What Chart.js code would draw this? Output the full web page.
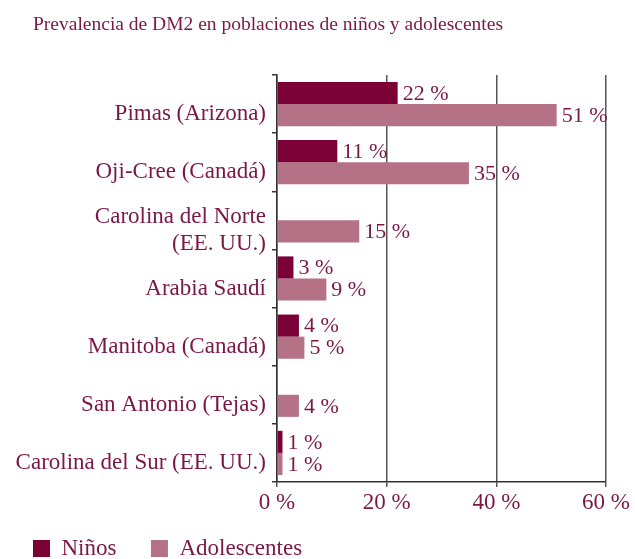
<!DOCTYPE html>
<html>
<head>
<meta charset="utf-8">
<script src="https://cdn.jsdelivr.net/npm/chart.js@4"></script>
<style>
  html, body { margin: 0; padding: 0; background: #fff; }
  #wrap { width: 635px; height: 559px; }
</style>
</head>
<body>
<div id="wrap"><canvas id="dm2Chart"></canvas></div>
<script>
const categories = [
    "Pimas (Arizona)",
    "Oji-Cree (Canadá)",
    ["Carolina del Norte", "(EE. UU.)"],
    "Arabia Saudí",
    "Manitoba (Canadá)",
    "San Antonio (Tejas)",
    "Carolina del Sur (EE. UU.)",
];
const ninos = [22, 11, null, 3, 4, null, 1];
const adolescentes = [51, 35, 15, 9, 5, 4, 1];
const xTicks = [0, 20, 40, 60];
const titleText = "Prevalencia de DM2 en poblaciones de niños y adolescentes";

const textColor = "#7b1746";
const serif = "'Liberation Serif', 'DejaVu Serif', serif";

// title at the top left and the "xx %" value next to every bar
const labelsPlugin = {
    id: "barLabels",
    afterDraw(chart) {
        const ctx = chart.ctx;
        ctx.save();
        ctx.fillStyle = textColor;
        ctx.textAlign = "left";
        ctx.textBaseline = "middle";
        ctx.font = "22px " + serif;
        chart.data.datasets.forEach((ds, di) => {
            chart.getDatasetMeta(di).data.forEach((bar, i) => {
                if (ds.data[i] == null) return;
                ctx.fillText(ds.data[i] + " %", bar.x + 5, bar.y + 1);
            });
        });
        ctx.font = "19.5px " + serif;
        ctx.fillText(titleText, 33, 25);
        ctx.restore();
    },
};

document.addEventListener("DOMContentLoaded", function () {
    const ctxChart = document.getElementById("dm2Chart");
    new Chart(ctxChart, {
        type: "bar",
        data: {
            labels: categories,
            datasets: [
                {
                    label: "Niños",
                    data: ninos,
                    backgroundColor: "#7a0036",
                },
                {
                    label: "Adolescentes",
                    data: adolescentes,
                    backgroundColor: "#b57287",
                },
            ],
        },
        plugins: [labelsPlugin],
        options: {
            indexAxis: "y",
            responsive: true,
            maintainAspectRatio: false,
            animation: false,
            categoryPercentage: 0.76,
            barPercentage: 1.0,
            layout: {
                padding: { top: 75, left: 10, right: 29, bottom: -11 },
            },
            plugins: {
                title: { display: false },
                tooltip: { enabled: false },
                legend: {
                    position: "bottom",
                    align: "start",
                    labels: {
                        boxWidth: 17,
                        boxHeight: 17,
                        padding: 23,
                        color: textColor,
                        font: { family: serif, size: 23 },
                        // a bit more room between the two legend entries
                        generateLabels: (chart) =>
                            Chart.defaults.plugins.legend.labels
                                .generateLabels(chart)
                                .map((item) => {
                                    item.text = item.text + "  ";
                                    return item;
                                }),
                    },
                },
            },
            scales: {
                x: {
                    min: 0,
                    max: 60,
                    afterBuildTicks: (axis) => {
                        axis.ticks = xTicks.map((v) => ({ value: v }));
                    },
                    afterFit: (axis) => {
                        axis.height = 32;
                    },
                    grid: {
                        color: "#555",
                        lineWidth: 1.5,
                        tickLength: 5,
                    },
                    border: { color: "#333", width: 1.5 },
                    ticks: {
                        color: textColor,
                        font: { family: serif, size: 23 },
                        padding: 2,
                        callback: (v) => v + " %",
                    },
                },
                y: {
                    grid: {
                        drawOnChartArea: false,
                        tickLength: 5,
                        color: "#333",
                        lineWidth: 1.5,
                    },
                    border: { color: "#333", width: 1.5 },
                    ticks: {
                        color: textColor,
                        font: { family: serif, size: 23 },
                        padding: 6,
                        labelOffset: 10,
                        autoSkip: false,
                    },
                    afterFit: (axis) => {
                        axis.width = 267;
                    },
                },
            },
        },
    });
});
</script>
</body>
</html>
